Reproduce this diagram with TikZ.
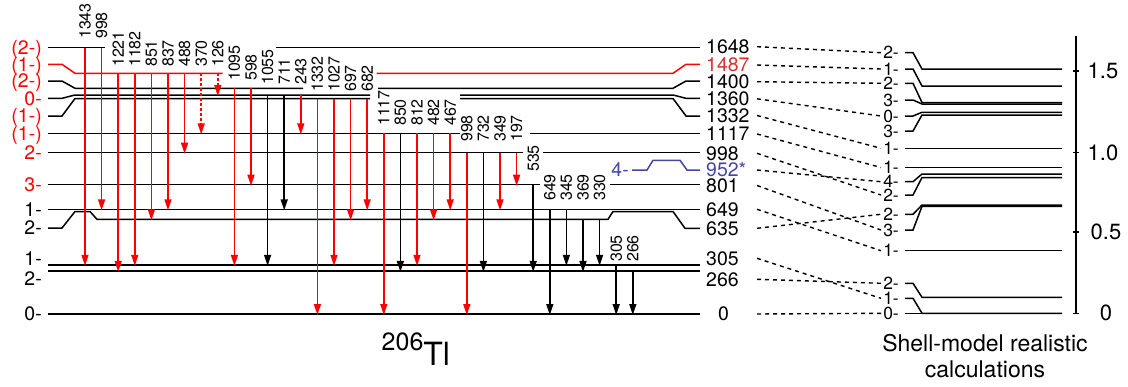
\documentclass[tikz,border=0pt]{standalone}
\usepackage{fontspec}
\setmainfont{TeX Gyre Heros}
\usetikzlibrary{arrows.meta,calc}

\definecolor{lbred}{RGB}{215,50,50}
\definecolor{lbblue}{RGB}{70,70,160}

\begin{document}
\begin{tikzpicture}[x=1pt,y={(0pt,-1pt)},
  lvl/.style={line width=1.5pt},
  gam/.style={line width=1.5pt,-{Triangle[length=11pt,width=7pt]}},
  gdash/.style={dash pattern=on 3pt off 2pt},
  glab/.style={rotate=90,anchor=west,inner sep=0pt,font=\fontsize{16}{16}\selectfont},
  elab/.style={anchor=west,inner sep=0pt,font=\fontsize{19.5}{20}\selectfont},
  jlab/.style={anchor=base east,inner sep=0pt,font=\fontsize{19.5}{20}\selectfont},
  slab/.style={anchor=east,inner sep=0pt,font=\fontsize{17.5}{17.5}\selectfont},
  link/.style={line width=1.4pt,dash pattern=on 4pt off 4pt}]
  \useasboundingbox (0,0) rectangle (1128,386);

  % 実験準位(206Tl)：ラベルと重なる部分は線を切る
  \draw[lvl] (48,47.5) -- (105,47.5);
  \draw[lvl] (276,47.5) -- (700,47.5);
  \draw[lvl,red] (48,64.3) -- (62,64.3) -- (75,73.3) -- (222.7,73.3);
  \draw[lvl,red] (376.7,73.3) -- (673,73.3) -- (686,64.3) -- (700,64.3);
  \draw[lvl] (48,81) -- (62,81) -- (75,88.3) -- (303,88.3);
  \draw[lvl] (378,88.3) -- (673,88.3) -- (686,81) -- (700,81);
  \draw[lvl] (48,98.3) -- (62,98.3) -- (75,95) -- (370,95);
  \draw[lvl] (460,95) -- (673,95) -- (686,98.3) -- (700,98.3);
  \draw[lvl] (48,116) -- (62,116) -- (75,98.5) -- (370,98.5);
  \draw[lvl] (460,98.5) -- (673,98.5) -- (686,116) -- (700,116);
  \draw[lvl] (48,133.3) -- (460,133.3);
  \draw[lvl] (530,133.3) -- (700,133.3);
  \draw[lvl] (48,152.7) -- (523,152.7);
  \draw[lvl] (543,152.7) -- (700,152.7);
  \draw[lvl] (48,184.7) -- (540,184.7);
  \draw[lvl] (610,184.7) -- (700,184.7);
  \draw[lvl] (48,209.3) -- (700,209.3);
  \draw[lvl] (48,228) -- (62,228) -- (75,211.5) -- (90,211.5) -- (97,219.3) -- (608,219.3)
    -- (613,211.5) -- (673,211.5) -- (685,228.3) -- (700,228.3);
  \draw[lvl] (48,264.8) -- (700,264.8);
  \draw[lvl] (48,270.9) -- (700,270.9);
  \draw[lvl] (48,314) -- (700,314);
  % 4- (952*) の準位
  \draw[lvl,lbblue] (632,170) -- (647,170) -- (653,160.3) -- (680,160.3) -- (687,170) -- (700,170);
  \node[elab,anchor=east,text=lbblue] (j4) at (629,170) {4-};

  % スピン・パリティ(左)
  \foreach \y/\jp/\c [count=\k] in {47.5/(2-)/red,64.3/(1-)/red,81/(2-)/red,98.3/0-/red,
      116/(1-)/red,133.3/(1-)/red,152.7/2-/red,184.7/3-/red,209.3/1-/black,228/2-/black,
      259/1-/black,279/2-/black,314/0-/black}{
    \node[jlab,text=\c] (j\k) at (42,\y+6.9) {\jp};
  }
  % 励起エネルギー(右)
  \foreach \y/\e/\c [count=\k] in {46.7/1648/black,65/1487/lbred,81.7/1400/black,
      98.8/1360/black,115.5/1332/black,134/1117/black,153.3/998/black,170/952*/lbblue,
      185.5/801/black,209.3/649/black,228.3/635/black,258.3/305/black,279.3/266/black}{
    \node[elab,text=\c] (e\k) at (706,\y) {\e};
  }
  \node[elab] (e14) at (718,314) {0};

  % γ線：x座標は等間隔
  \foreach \lab/\yi/\yf/\yl/\c/\sty [count=\i from 0] in {
      1343/47.5/264.8/39/red/solid, 998/47.5/209.3/39/red/solid,
      1221/73.3/270.9/67/red/solid, 1182/73.3/264.8/67/red/solid,
      851/73.3/219.3/67/red/solid, 837/73.3/209.3/67/red/solid,
      488/73.3/152.7/67/red/solid, 370/73.3/133.3/67/red/gdash,
      126/73.3/95/67/red/gdash, 1095/88.3/264.8/81/red/solid,
      598/88.3/184.7/81/red/solid, 1055/95/264.8/85/black/solid,
      711/95/209.3/85/black/solid, 243/95/133.3/85/red/solid,
      1332/98.5/314/92/red/solid, 1027/98.5/264.8/92/red/solid,
      697/98.5/219.3/92/red/solid, 682/98.5/209.3/92/red/solid,
      1117/133.3/314/126/red/solid, 850/133.3/270.9/126/black/solid,
      812/133.3/264.8/126/red/solid, 482/133.3/219.3/126/red/solid,
      467/133.3/209.3/126/red/solid, 998/152.7/314/142/red/solid,
      732/152.7/270.9/142/black/solid, 349/152.7/209.3/142/red/solid,
      197/152.7/184.7/142/red/solid, 535/184.7/270.9/172/black/solid,
      649/209.3/314/201/black/solid, 345/209.3/264.8/201/black/solid,
      369/219.3/270.9/201/black/solid, 330/219.3/264.8/201/black/solid,
      305/264.8/314/262/black/solid, 266/270.9/314/262/black/solid}{
    \pgfmathsetmacro{\xg}{85+16.6*\i}
    \draw[gam,\c,\sty] (\xg,\yi) -- (\xg,\yf+1);
    \node[glab] (g\i) at (\xg,\yl) {\lab};
  }
  \node[anchor=base west,inner sep=0pt] (nuc) at (381.5,365)
    {\fontsize{25}{25}\selectfont\raisebox{15pt}{206}\fontsize{32}{32}\selectfont Tl};

  % 殻模型計算の準位
  \foreach \ly/\lv/\jp [count=\k] in {52.7/69/2-,69/86/1-,83.3/102.5/2-,100/104/3-,
      116/112.3/0-,131/115/3-,148.3/148.3/1-,167.5/167.5/1-,181.7/174/4-,195/177.5/2-,
      214.3/205/2-,230/206.3/3-,250.7/250.7/1-,283.3/297.3/2-,298.3/313.3/1-,313.3/313.3/0-}{
    \node[slab] (s\k) at (899,\ly) {\jp};
    \draw[lvl] (905,\ly) -- (913,\ly) -- (922,\lv) -- (1062,\lv);
  }
  \node[anchor=north,align=center,inner sep=0pt,font=\fontsize{23}{26}\selectfont] (sm)
    at (985,334) {Shell-model realistic\\calculations};

  % 実験と計算の対応(点線)
  \coordinate (linkL) at (757,0);
  \coordinate (linkR) at (881,0);
  \foreach \a/\b in {1/1,2/2,3/3,4/5,5/7,6/8,7/10,8/9,9/12,10/13,11/11,12/15,13/14,14/16}{
    \draw[link] (e\a -| linkL) -- (s\b -| linkR);
  }

  % エネルギー軸 (MeV)
  \draw[lvl] (1076,36) -- (1076,313.3);
  \foreach \y/\t/\xt [count=\k] in {71/1.5/1103,152.7/1.0/1103,232/0.5/1106,313.3/0/1106}{
    \draw[lvl] (1073,\y) -- (1079,\y);
    \node[inner sep=0pt,font=\fontsize{22}{22}\selectfont] (t\k) at (\xt,\y) {\t};
  }
\end{tikzpicture}
\end{document}
